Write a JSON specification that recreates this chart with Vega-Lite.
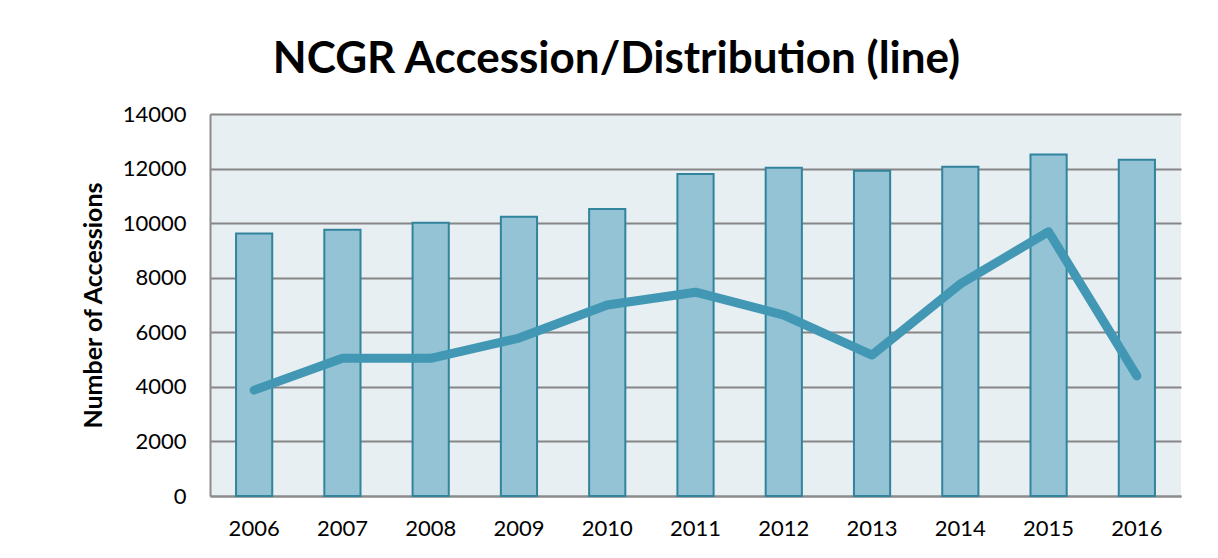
{
  "$schema": "https://vega.github.io/schema/vega-lite/v6.json",
  "width": 971,
  "height": 382,
  "autosize": {"type": "none"},
  "padding": {"left": 210, "top": 114, "right": 37, "bottom": 62},
  "background": "white",
  "title": {
    "text": "NCGR Accession/Distribution (line)",
    "font": "Lato",
    "fontSize": 44,
    "fontWeight": "bold",
    "color": "#000000",
    "anchor": "middle",
    "dx": -79,
    "offset": 21
  },
  "config": {
    "view": {"fill": "#E8EFF3", "stroke": null},
    "axis": {
      "labelFont": "Lato",
      "labelFontSize": 22,
      "labelColor": "#000000",
      "titleFont": "Lato",
      "titleColor": "#000000",
      "ticks": false,
      "domainColor": "#8C8C8C",
      "domainWidth": 2,
      "gridColor": "#868686",
      "gridWidth": 2
    }
  },
  "data": {
    "values": [
      {"year": "2006", "accessions": 9625, "distribution": 3880},
      {"year": "2007", "accessions": 9760, "distribution": 5045},
      {"year": "2008", "accessions": 10015, "distribution": 5045},
      {"year": "2009", "accessions": 10235, "distribution": 5790},
      {"year": "2010", "accessions": 10515, "distribution": 7000},
      {"year": "2011", "accessions": 11800, "distribution": 7470},
      {"year": "2012", "accessions": 12030, "distribution": 6630},
      {"year": "2013", "accessions": 11920, "distribution": 5165},
      {"year": "2014", "accessions": 12065, "distribution": 7770},
      {"year": "2015", "accessions": 12520, "distribution": 9685},
      {"year": "2016", "accessions": 12325, "distribution": 4400}
    ]
  },
  "encoding": {
    "x": {
      "field": "year",
      "type": "ordinal",
      "scale": {"paddingInner": 0, "paddingOuter": 0},
      "axis": {"title": null, "labelAngle": 0, "labelPadding": 22, "grid": false, "domain": true}
    }
  },
  "layer": [
    {
      "mark": {"type": "bar", "width": {"band": 0.41}, "fill": "#93C3D4", "stroke": "#31849B", "strokeWidth": 2},
      "encoding": {
        "y": {
          "field": "accessions",
          "type": "quantitative",
          "scale": {"domain": [0, 14000]},
          "axis": {
            "title": "Number of Accessions",
            "titleFontSize": 25,
            "titleFontWeight": "bold",
            "titlePadding": 16,
            "values": [0, 2000, 4000, 6000, 8000, 10000, 12000, 14000],
            "format": "d",
            "labelPadding": 24,
            "grid": true,
            "domain": true
          }
        }
      }
    },
    {
      "mark": {"type": "line", "color": "#4298B4", "strokeWidth": 9, "strokeCap": "round", "strokeJoin": "round"},
      "encoding": {
        "y": {"field": "distribution", "type": "quantitative"}
      }
    }
  ]
}
